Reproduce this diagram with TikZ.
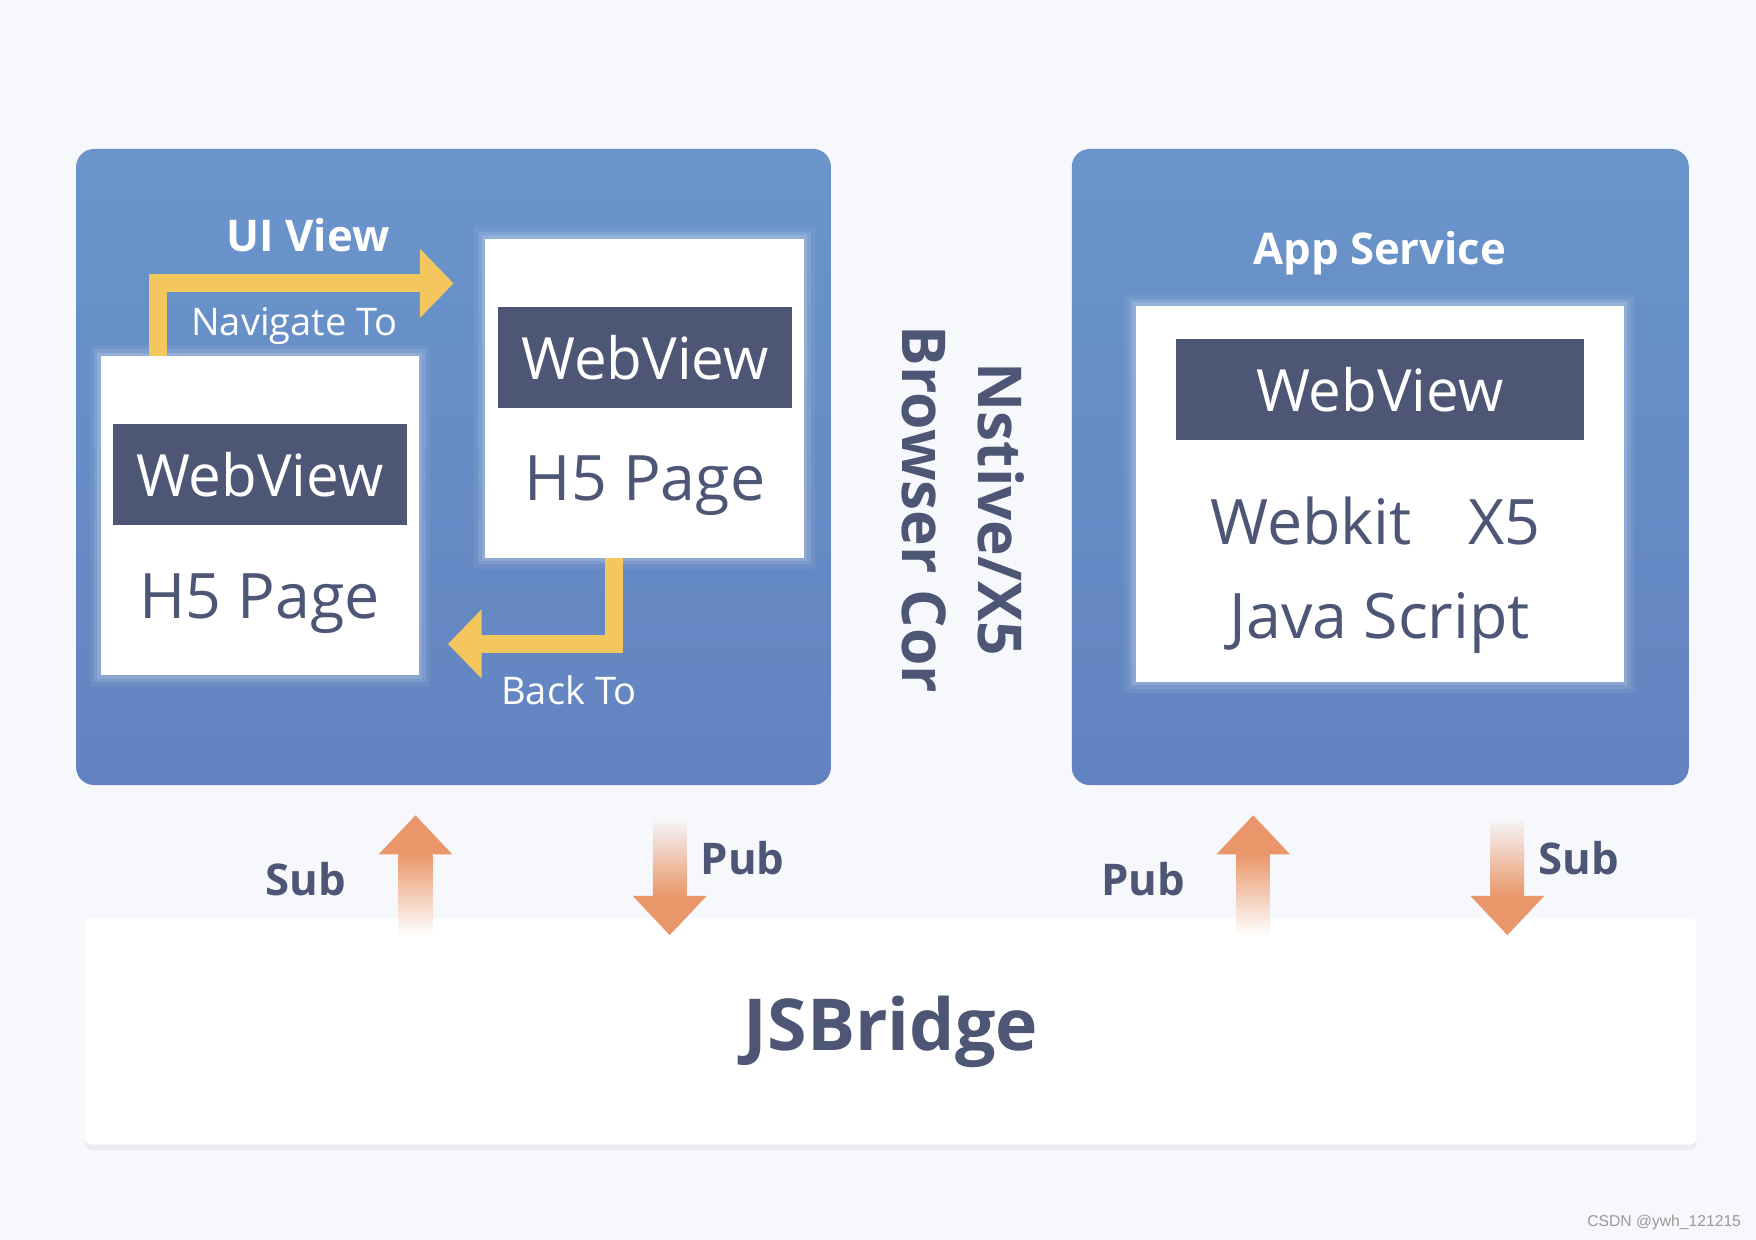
\documentclass[tikz,border=0pt]{standalone}
\usepackage{fontspec}
\setmainfont{Open Sans}
\newfontfamily\wmfont{Liberation Sans}
\usetikzlibrary{arrows.meta,shadows,calc}
\definecolor{bgc}{HTML}{F6F8FC}
\definecolor{blueT}{HTML}{6A95CB}
\definecolor{blueB}{HTML}{6383C0}
\definecolor{darkc}{HTML}{4D5674}
\definecolor{yelc}{HTML}{F4C65E}
\definecolor{orc}{HTML}{E9976A}
\definecolor{wmc}{HTML}{999999}
\begin{document}
\begin{tikzpicture}[x=0.5pt,y=-0.5pt,
  bluebox/.style={rounded corners=8pt, top color=blueT, bottom color=blueB, draw=none, minimum height=284pt, inner sep=0pt},
  page/.style={fill=white, draw=none, inner sep=0pt,
     preaction={draw=white, draw opacity=0.06, line width=10pt},
     preaction={draw=white, draw opacity=0.10, line width=6pt},
     preaction={draw=white, draw opacity=0.15, line width=3pt}},
  bar/.style={fill=darkc, text=white, inner sep=0pt, minimum height=45pt, font=\fontsize{26}{30}\selectfont},
  bigtxt/.style={text=darkc, inner sep=0pt, font=\fontsize{28}{32}\selectfont},
  wtitle/.style={text=white, inner sep=0pt, font=\fontsize{19.5}{24}\selectfont\bfseries},
  wsmall/.style={text=white, inner sep=0pt, font=\fontsize{17}{20}\selectfont},
  pslabel/.style={text=darkc, inner sep=0pt, font=\fontsize{19.5}{24}\selectfont\bfseries},
  yarrow/.style={draw=yelc, line width=8pt, line join=miter, -{Triangle[width=30pt,length=15pt]}},
]
% background
\fill[bgc] (0,0) rectangle (1568,1107);
\useasboundingbox (0,0) rectangle (1568,1107);

% blue containers
\node[bluebox, minimum width=337pt] (lbox) at (405,417) {};
\node[bluebox, minimum width=275.5pt] (rbox) at (1232.5,417) {};

% left box content
\node[wtitle] (uiview) at (275,210) {UI View};
\node[page, minimum width=142pt, minimum height=142.5pt] (lpage) at (232,460.5) {};
\node[bar, minimum width=131pt] (lbar) at (232,424) {WebView};
\node[bigtxt] (lh5) at (232,539) {H5 Page};
\node[page, minimum width=142.5pt, minimum height=142.5pt] (rpage) at (575.5,355.5) {};
\node[bar, minimum width=131pt] (rbar) at (576,319) {WebView};
\node[bigtxt] (rh5) at (576,434) {H5 Page};

\coordinate (n0) at (141,318);
\coordinate (n1) at (141,253);
\coordinate (n2) at (405,253);
\draw[yarrow] (n0) -- (n1) -- (n2);
\node[wsmall] (navto) at (263,291) {Navigate To};

\coordinate (b0) at (548,498);
\coordinate (b1) at (548,575);
\coordinate (b2) at (400,575);
\draw[yarrow] (b0) -- (b1) -- (b2);
\node[wsmall] (backto) at (508,616) {Back To};

% vertical text
\node[rotate=-90, text=darkc, align=center, inner sep=0pt,
      font=\fontsize{27}{34}\selectfont\bfseries] (core) at (860,455)
      {Nstive/X5\\Browser Cor};

% right box content
\node[wtitle] (appsvc) at (1232,226) {App Service};
\node[page, minimum width=218pt, minimum height=168pt] (apage) at (1232,441) {};
\node[bar, minimum width=182pt] (abar) at (1232,348) {WebView};
\node[bigtxt] (webkit) at (1228,465) {Webkit\hspace{0.9em}X5};
\node[bigtxt] (jscript) at (1232,556) {Java Script};

% JSBridge
\node[fill=white, rounded corners=3pt, minimum width=719.5pt, minimum height=101pt,
      inner sep=0pt, text=darkc, font=\fontsize{32}{38}\selectfont\bfseries,
      drop shadow={opacity=0.07, shadow xshift=0pt, shadow yshift=-2.5pt, fill=darkc}]
      (bridge) at (795.5,921) {JSBridge};

% pub/sub arrows
\coordinate (u1) at (371,728);
\coordinate (d1) at (598,835);
\coordinate (u2) at (1119,728);
\coordinate (d2) at (1346,835);
\foreach \c in {u1,u2}{
  \shade[top color=orc, bottom color=white] ($(\c)+(-15,35)$) rectangle ($(\c)+(15,107)$);
  \fill[orc] (\c) -- ($(\c)+(33,35)$) -- ($(\c)+(-33,35)$) -- cycle;
}
\foreach \c in {d1,d2}{
  \shade[top color=bgc, bottom color=orc] ($(\c)+(-15,-105)$) rectangle ($(\c)+(15,-35)$);
  \fill[orc] (\c) -- ($(\c)+(33,-35)$) -- ($(\c)+(-33,-35)$) -- cycle;
}
\node[pslabel] (sub1) at (273,785) {Sub};
\node[pslabel] (pub1) at (663,766) {Pub};
\node[pslabel] (pub2) at (1021,785) {Pub};
\node[pslabel] (sub2) at (1410,766) {Sub};

% watermark
\node[text=wmc, inner sep=0pt, font=\wmfont\fontsize{7}{8}\selectfont] (wm) at (1486,1092) {CSDN @ywh\_121215};
\end{tikzpicture}
\end{document}
